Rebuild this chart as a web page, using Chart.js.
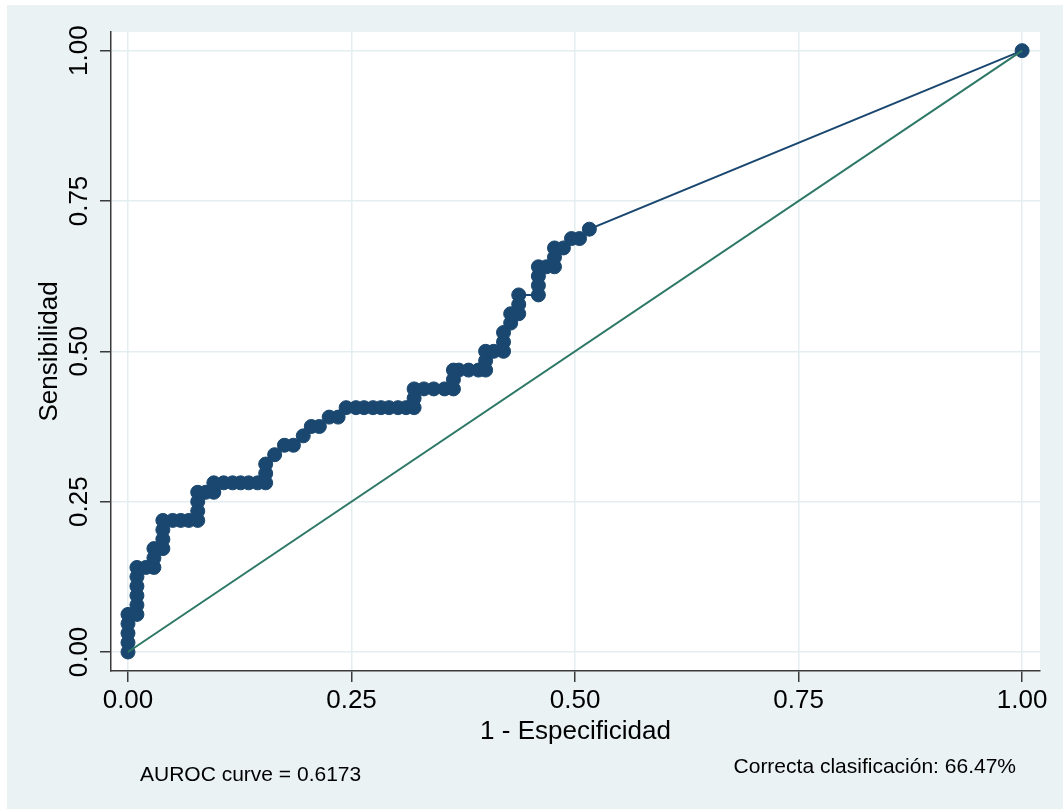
<!DOCTYPE html>
<html>
<head>
<meta charset="utf-8">
<script src="https://cdn.jsdelivr.net/npm/chart.js@4.4.1/dist/chart.umd.min.js"></script>
<style>
  html, body { margin: 0; padding: 0; background: #ffffff; }
  #wrap { width: 1063px; height: 809px; position: relative; }
</style>
</head>
<body>
<div id="wrap"><canvas id="grafik" width="1063" height="809"></canvas></div>
<script>
// datos de la curva ROC (1 - especificidad, sensibilidad)
const unoMenosEsp = [
  0, 0, 0, 0, 0,
  0.010, 0.010, 0.010, 0.010, 0.010, 0.010,
  0.020, 0.029, 0.029, 0.029,
  0.039, 0.039, 0.039, 0.039,
  0.050, 0.059, 0.068, 0.078, 0.078, 0.078, 0.078,
  0.087, 0.096, 0.096,
  0.107, 0.117, 0.126, 0.135, 0.145, 0.154, 0.154, 0.154,
  0.164, 0.175, 0.185, 0.196, 0.205, 0.214, 0.225, 0.235,
  0.244, 0.255, 0.264, 0.274, 0.283, 0.292, 0.302, 0.311, 0.320, 0.320, 0.320,
  0.331, 0.342, 0.354, 0.364, 0.364, 0.364,
  0.370, 0.381, 0.392, 0.400, 0.400, 0.400,
  0.409, 0.420, 0.420, 0.420,
  0.428, 0.428, 0.437, 0.437, 0.437,
  0.459, 0.459, 0.459, 0.459,
  0.468, 0.477, 0.477, 0.477,
  0.487, 0.496, 0.505, 0.516,
  1
];
const sensibilidad = [
  0, 0.0156, 0.0313, 0.0469, 0.0625,
  0.0625, 0.0781, 0.0938, 0.1094, 0.125, 0.1406,
  0.1406, 0.1406, 0.1563, 0.1719,
  0.1719, 0.1875, 0.2031, 0.2188,
  0.2188, 0.2188, 0.2188, 0.2188, 0.2344, 0.25, 0.2656,
  0.2656, 0.2656, 0.2813,
  0.2813, 0.2813, 0.2813, 0.2813, 0.2813, 0.2813, 0.2969, 0.3125,
  0.3281, 0.3438, 0.3438, 0.3594, 0.375, 0.375, 0.3906, 0.3906,
  0.4063, 0.4063, 0.4063, 0.4063, 0.4063, 0.4063, 0.4063, 0.4063, 0.4063, 0.4219, 0.4375,
  0.4375, 0.4375, 0.4375, 0.4375, 0.4531, 0.4688,
  0.4688, 0.4688, 0.4688, 0.4688, 0.4844, 0.5,
  0.5, 0.5, 0.5156, 0.5313,
  0.5469, 0.5625, 0.5625, 0.5781, 0.5938,
  0.5938, 0.6094, 0.625, 0.6406,
  0.6406, 0.6406, 0.6563, 0.6719,
  0.6719, 0.6875, 0.6875, 0.7031,
  1
];
const refX = [0, 1];
const refY = [0, 1];
const ticksX = [0, 0.25, 0.5, 0.75, 1];
const ticksY = [0, 0.25, 0.5, 0.75, 1];
const textoAuroc = 'AUROC curve = 0.6173';
const textoClasif = 'Correcta clasificación: 66.47%';

const fuente = 'Liberation Sans, Arial, Helvetica, sans-serif';
const colorRoc = '#1a476f';
const colorRef = '#2d7866';
const colorGrid = '#e4eef0';
const colorEje = '#3a3a3a';

const puntosRoc = unoMenosEsp.map((v, i) => ({x: v, y: sensibilidad[i]}));
const puntosRef = refX.map((v, i) => ({x: v, y: refY[i]}));

// fondo gris y notas de abajo
const fondo = {
  id: 'fondo',
  beforeDraw(chart) {
    const ctx = chart.ctx;
    const a = chart.chartArea;
    ctx.save();
    ctx.fillStyle = '#ffffff';
    ctx.fillRect(0, 0, chart.width, chart.height);
    ctx.fillStyle = '#eaf2f3';
    ctx.fillRect(7, 5, chart.width - 7, chart.height - 5);
    ctx.fillStyle = '#ffffff';
    ctx.fillRect(a.left, a.top, a.right - a.left, a.bottom - a.top);
    ctx.restore();
  },
  afterDraw(chart) {
    const ctx = chart.ctx;
    ctx.save();
    ctx.fillStyle = '#000000';
    ctx.font = '21px ' + fuente;
    ctx.textBaseline = 'alphabetic';
    ctx.textAlign = 'left';
    ctx.fillText(textoAuroc, 140, 781);
    ctx.textAlign = 'right';
    ctx.fillText(textoClasif, 1016, 773);
    ctx.restore();
  }
};

const ctx = document.getElementById('grafik').getContext('2d');
const grafik = new Chart(ctx, {
  type: 'scatter',
  data: {
    datasets: [
      {
        label: 'Referencia',
        data: puntosRef,
        showLine: true,
        borderColor: colorRef,
        borderWidth: 2,
        pointRadius: 0,
        order: 0
      },
      {
        label: 'ROC',
        data: puntosRoc,
        showLine: true,
        borderColor: colorRoc,
        borderWidth: 2,
        pointRadius: 7,
        pointBackgroundColor: colorRoc,
        pointBorderColor: colorRoc,
        pointBorderWidth: 1,
        order: 1
      }
    ]
  },
  plugins: [fondo],
  options: {
    responsive: false,
    animation: false,
    events: [],
    layout: { padding: { left: 0, top: 32, right: 23, bottom: 62 } },
    plugins: {
      legend: { display: false },
      tooltip: { enabled: false }
    },
    scales: {
      x: {
        type: 'linear',
        min: -0.019,
        max: 1.020,
        afterBuildTicks: s => { s.ticks = ticksX.map(v => ({value: v})); },
        afterFit: s => { s.height = 76; },
        grid: { color: colorGrid, lineWidth: 1.5, tickLength: 11, tickColor: colorEje, tickWidth: 1.5 },
        border: { display: true, color: colorEje, width: 1.5 },
        ticks: {
          color: '#000000',
          font: { family: fuente, size: 26 },
          padding: 3,
          maxRotation: 0,
          callback: v => v.toFixed(2)
        },
        title: {
          display: true,
          text: '1 - Especificidad',
          color: '#000000',
          font: { family: fuente, size: 26 },
          padding: { top: 0, bottom: 0 }
        }
      },
      y: {
        type: 'linear',
        min: -0.0316,
        max: 1.031,
        afterBuildTicks: s => { s.ticks = ticksY.map(v => ({value: v})); },
        afterFit: s => { s.width = 111; },
        grid: { color: colorGrid, lineWidth: 1.5, tickLength: 11, tickColor: colorEje, tickWidth: 1.5 },
        border: { display: true, color: colorEje, width: 1.5 },
        ticks: {
          color: '#000000',
          font: { family: fuente, size: 26 },
          minRotation: 90,
          maxRotation: 90,
          crossAlign: 'center',
          padding: -5,
          callback: v => v.toFixed(2)
        },
        title: {
          display: true,
          text: 'Sensibilidad',
          color: '#000000',
          font: { family: fuente, size: 26 },
          padding: { top: 34, bottom: 0 }
        }
      }
    }
  }
});
</script>
</body>
</html>
